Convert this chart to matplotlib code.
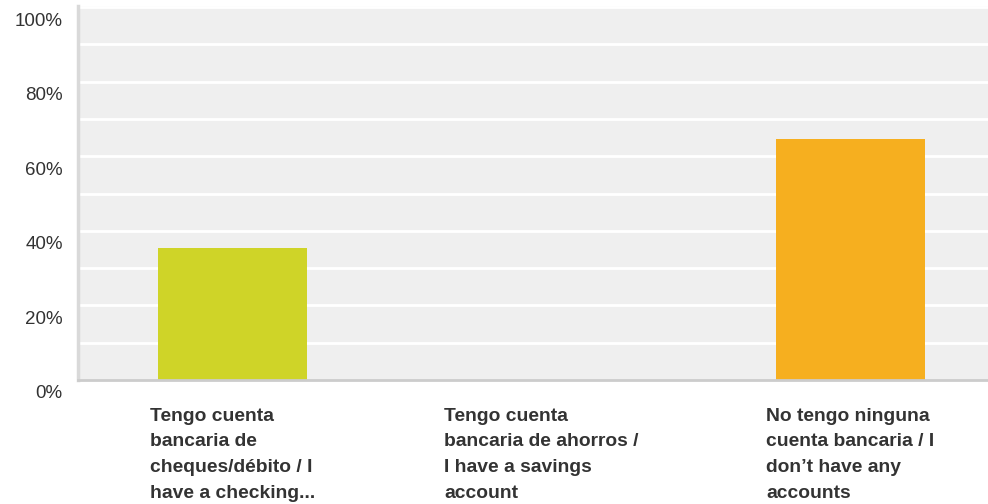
import matplotlib.pyplot as plt
import matplotlib.transforms as mtransforms
import numpy as np

# survey answers and share of respondents (%)
categories = [
    "Tengo cuenta\nbancaria de\ncheques/débito / I\nhave a checking...",
    "Tengo cuenta\nbancaria de ahorros /\nI have a savings\naccount",
    "No tengo ninguna\ncuenta bancaria / I\ndon\u2019t have any\naccounts",
]
values = [35.3, 0.0, 64.7]
colors = ["#cfd428", "#8ab83c", "#f6af1f"]
yticks = [0, 20, 40, 60, 80, 100]

plt.rcParams['font.family'] = ['Liberation Sans', 'DejaVu Sans']

fig = plt.figure(figsize=(9.88, 5.04), dpi=100)
ax = fig.add_axes([78 / 988, 1 - 380 / 504, 910 / 988, 374 / 504])
ax.set_facecolor("#efefef")

x = np.arange(len(categories))
ax.bar(x, values, width=0.48, color=colors, zorder=3)

ax.set_ylim(0, 100.3)
ax.set_xlim(-0.5, 2.445)

# white gridlines every 10%
for g in range(10, 101, 10):
    ax.axhline(g, color="white", lw=2, zorder=1)

for s in ["top", "right"]:
    ax.spines[s].set_visible(False)
ax.spines["left"].set_color("#d9d9d9")
ax.spines["left"].set_linewidth(2.5)
ax.spines["bottom"].set_color("#cccccc")
ax.spines["bottom"].set_linewidth(2)
ax.spines["bottom"].set_zorder(4)

ax.set_yticks(yticks)
ax.set_yticklabels([f"{t}%" for t in yticks], fontsize=13.5, color="#333333")
ax.tick_params(axis="y", length=0, pad=11)
offset = mtransforms.ScaledTranslation(0, -12 / 100, fig.dpi_scale_trans)
for lab in ax.get_yticklabels():
    lab.set_transform(lab.get_transform() + offset)

ax.set_xticks(x)
ax.set_xticklabels(categories, fontsize=13.9, fontweight="bold", color="#333333",
                   ha="center", va="top", multialignment="left", linespacing=1.66)
ax.tick_params(axis="x", length=0, pad=20)

fig.savefig("out.png", dpi=100)
